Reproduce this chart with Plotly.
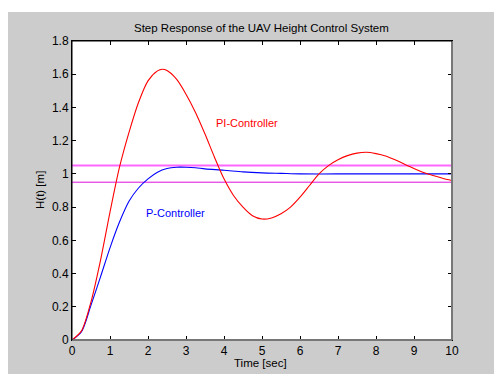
import plotly.graph_objects as go

# Time samples [sec]
t_pi = [0, 0.25, 0.5, 0.75, 1.0, 1.25, 1.5, 1.75, 2.0, 2.25, 2.375, 2.5, 2.75, 3.0, 3.25, 3.5, 3.75,
        4.0, 4.25, 4.5, 4.75, 5.0, 5.25, 5.5, 5.75, 6.0, 6.25, 6.5, 6.75, 7.0, 7.25, 7.5, 7.75,
        8.0, 8.25, 8.5, 8.75, 9.0, 9.25, 9.5, 9.75, 10.0]
h_pi = [0, 0.055, 0.23, 0.48, 0.77, 1.04, 1.25, 1.43, 1.56, 1.62, 1.63, 1.622, 1.57, 1.48, 1.37, 1.24, 1.10,
        0.97, 0.87, 0.80, 0.748, 0.728, 0.735, 0.76, 0.80, 0.86, 0.93, 1.00, 1.05, 1.085, 1.11, 1.125, 1.13,
        1.122, 1.108, 1.085, 1.058, 1.032, 1.008, 0.99, 0.974, 0.96]

t_p = [0, 0.25, 0.5, 0.75, 1.0, 1.25, 1.5, 1.75, 2.0, 2.25, 2.5, 2.75, 3.0, 3.25, 3.5, 4.0,
       4.5, 5.0, 5.5, 6.0, 7.0, 8.0, 9.0, 10.0]
h_p = [0, 0.05, 0.21, 0.38, 0.555, 0.71, 0.835, 0.915, 0.97, 1.01, 1.032, 1.04, 1.04, 1.037, 1.03, 1.022,
       1.012, 1.006, 1.003, 1.0, 1.0, 1.0, 1.0, 1.0]

band_upper = 1.05
band_lower = 0.95

title = "Step Response of the UAV Height Control System"
xlabel = "Time [sec]"
ylabel = "H(t) [m]"
x_ticks = [0, 1, 2, 3, 4, 5, 6, 7, 8, 9, 10]
y_ticks = [0, 0.2, 0.4, 0.6, 0.8, 1, 1.2, 1.4, 1.6, 1.8]
y_ticktext = ["0", "0.2", "0.4", "0.6", "0.8", "1", "1.2", "1.4", "1.6", "1.8"]

FONT = "Liberation Sans, Arial, sans-serif"

fig = go.Figure()
fig.add_trace(go.Scatter(x=[0, 10], y=[band_upper, band_upper], mode="lines",
                         line=dict(color="#ff66ff", width=2), showlegend=False, hoverinfo="skip"))
fig.add_trace(go.Scatter(x=[0, 10], y=[band_lower, band_lower], mode="lines",
                         line=dict(color="#dd11dd", width=1), showlegend=False, hoverinfo="skip"))
fig.add_trace(go.Scatter(x=t_p, y=h_p, mode="lines", line=dict(color="#0000ff", width=1.1, shape="spline", smoothing=0.8),
                         showlegend=False))
fig.add_trace(go.Scatter(x=t_pi, y=h_pi, mode="lines", line=dict(color="#ff0000", width=1.1, shape="spline", smoothing=0.8),
                         showlegend=False))

L, R, T, B = 72, 42, 41, 34
W, H = 494, 374
pw, ph = W - L - R, H - T - B


def px(x):
    return (x - L) / pw


def py(y):
    return (H - B - y) / ph


shapes = [
    # white strips outside the grey figure area
    dict(type="rect", xref="paper", yref="paper", x0=px(-5), x1=px(W + 5), y0=py(12), y1=py(-5),
         fillcolor="white", line=dict(width=0), layer="below"),
    dict(type="rect", xref="paper", yref="paper", x0=px(-5), x1=px(8), y0=py(H + 5), y1=py(-5),
         fillcolor="white", line=dict(width=0), layer="below"),
    # axes box
    dict(type="line", xref="paper", yref="paper", x0=0, x1=1, y0=0, y1=0, line=dict(color="#777777", width=2)),
    dict(type="line", xref="paper", yref="paper", x0=1, x1=1, y0=0, y1=1, line=dict(color="#777777", width=2)),
    dict(type="line", xref="paper", yref="paper", x0=0, x1=1, y0=1, y1=1, line=dict(color="black", width=1)),
    dict(type="line", xref="paper", yref="paper", x0=0, x1=0, y0=0, y1=1, line=dict(color="black", width=1)),
]

annotations = [
    dict(text=title, x=px(261), y=py(28), xref="paper", yref="paper", showarrow=False,
         font=dict(size=11.5, color="black", family=FONT), xanchor="center", yanchor="middle"),
    dict(text=xlabel, x=px(260), y=py(363), xref="paper", yref="paper", showarrow=False,
         font=dict(size=11.5, color="black", family=FONT), xanchor="center", yanchor="middle"),
    dict(text=ylabel, x=px(40), y=py(190), xref="paper", yref="paper", showarrow=False, textangle=-90,
         font=dict(size=11.5, color="black", family=FONT), xanchor="center", yanchor="middle"),
    dict(text="PI-Controller", x=4.61, y=1.305, xref="x", yref="y", showarrow=False,
         font=dict(size=11, color="#ff0000", family=FONT), xanchor="center", yanchor="middle"),
    dict(text="P-Controller", x=2.72, y=0.763, xref="x", yref="y", showarrow=False,
         font=dict(size=11, color="#0000ff", family=FONT), xanchor="center", yanchor="middle"),
]

fig.update_layout(
    width=W, height=H,
    margin=dict(l=L, r=R, t=T, b=B, pad=0),
    paper_bgcolor="#cccccc", plot_bgcolor="white",
    font=dict(family=FONT, size=12, color="black"),
    shapes=shapes, annotations=annotations,
    xaxis=dict(range=[0, 10], tickvals=x_ticks, ticks="inside", ticklen=4, tickcolor="black",
               showline=True, linecolor="black", linewidth=1, mirror="ticks", showgrid=False, zeroline=False,
               tickfont=dict(size=12, color="black", family=FONT), fixedrange=True),
    yaxis=dict(range=[0, 1.8], tickvals=y_ticks, ticktext=y_ticktext, ticks="inside", ticklen=4, tickcolor="black",
               showline=True, linecolor="black", linewidth=1, mirror="ticks", showgrid=False, zeroline=False,
               tickfont=dict(size=12, color="black", family=FONT), fixedrange=True),
)

fig.write_html("out.html")
